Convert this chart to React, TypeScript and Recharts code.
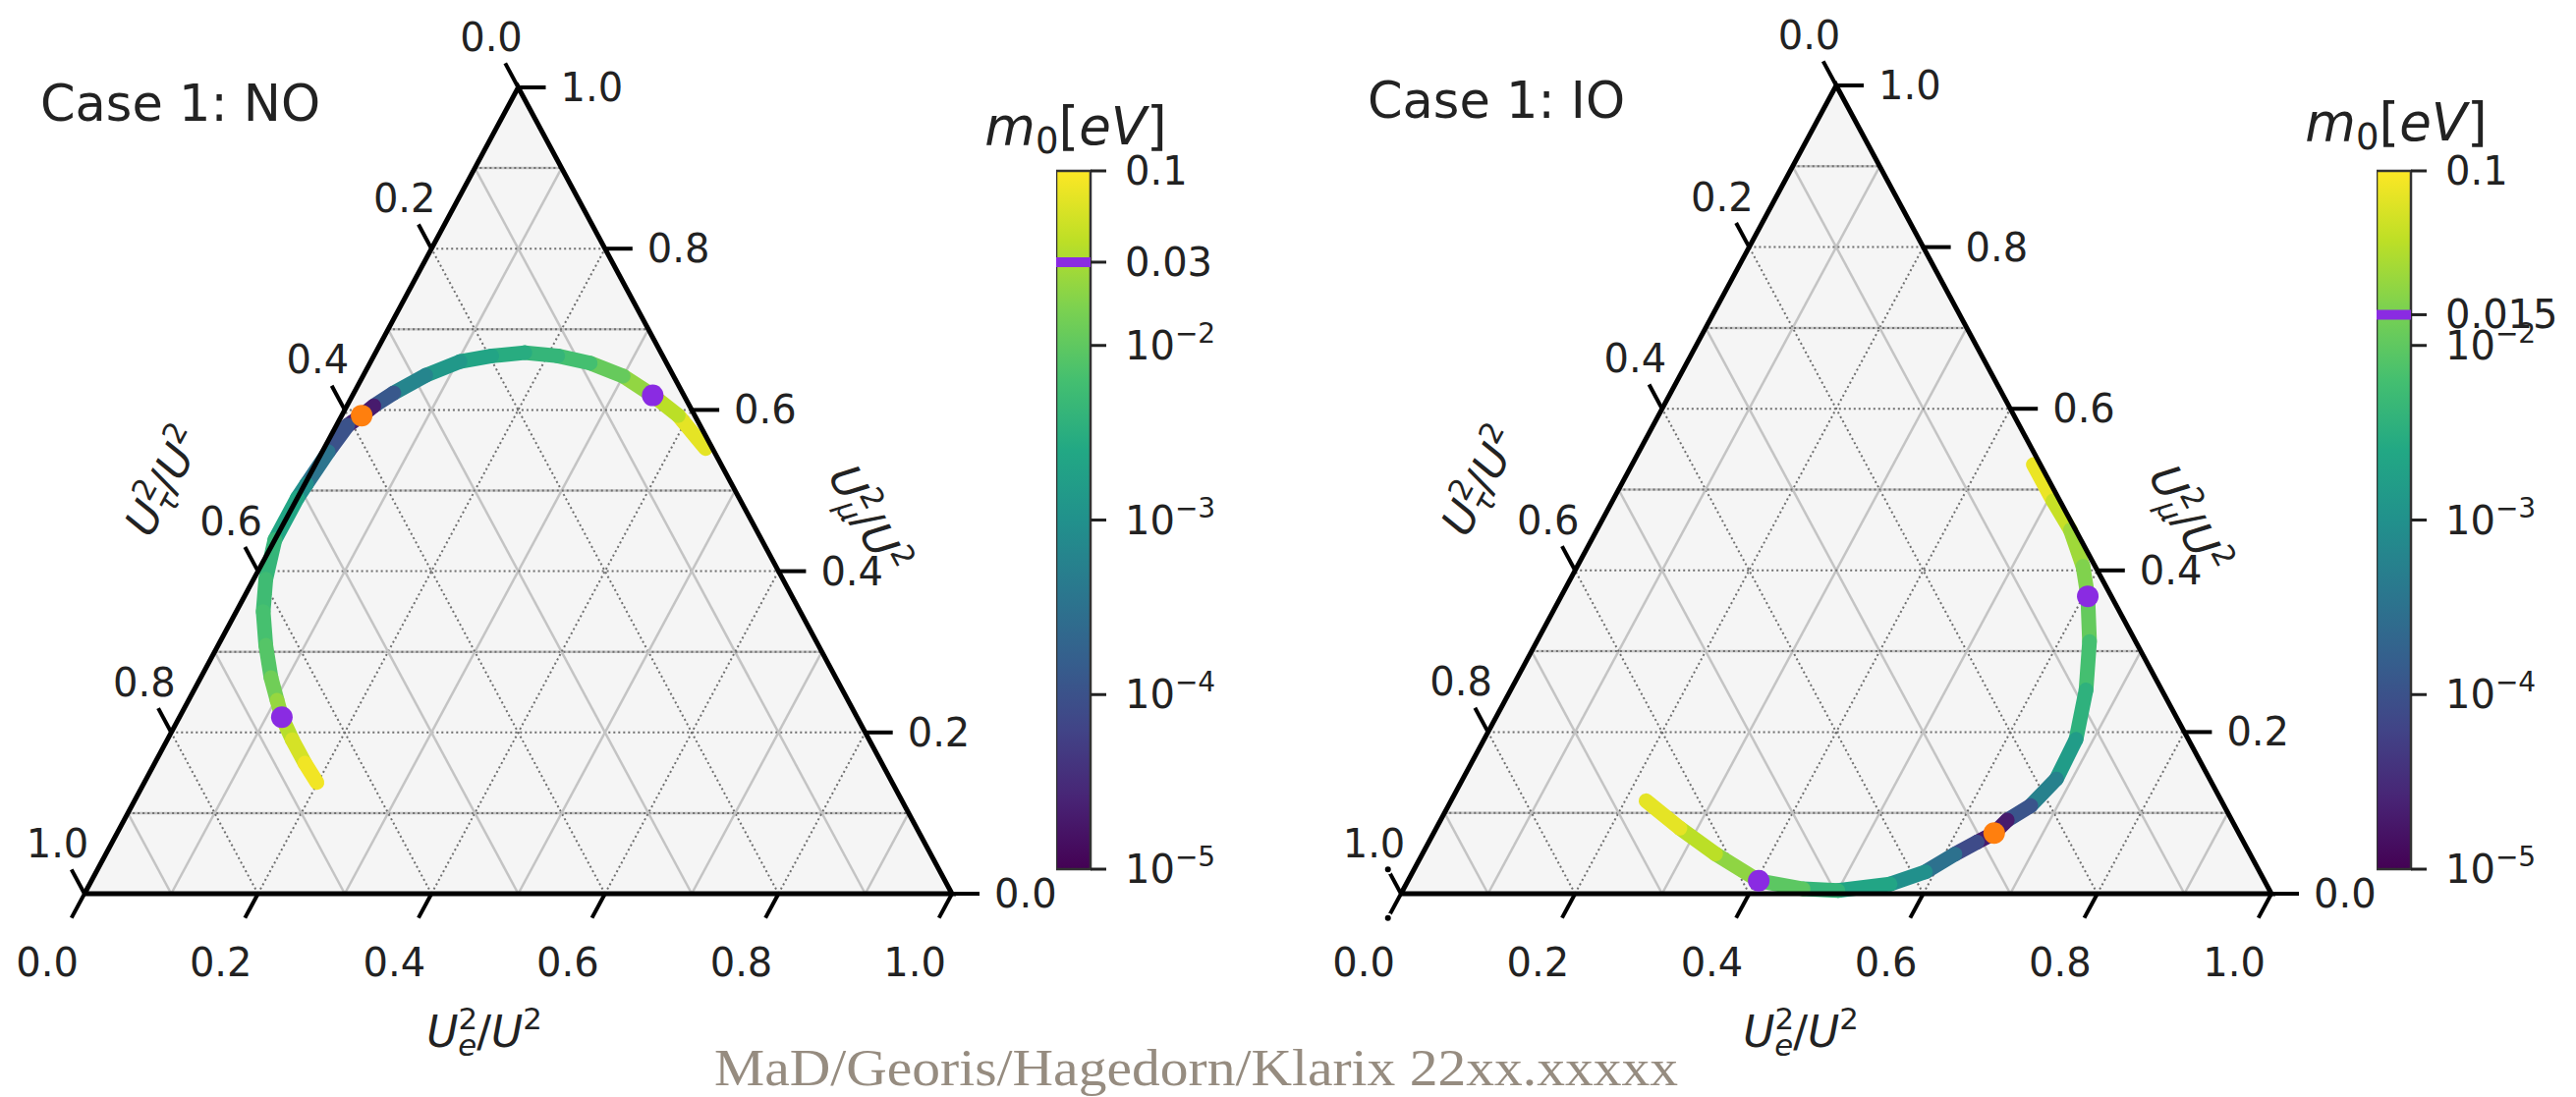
import React from 'react';
import {
  ComposedChart,
  Area,
  Line,
  Scatter,
  XAxis,
  YAxis,
  ReferenceArea,
  ReferenceLine,
} from 'recharts';

const PAGE_W = 2622;
const PAGE_H = 1117;
const FONT = '"DejaVu Sans", sans-serif';
const INK = '#222222';
const MARK_PURPLE = '#8a2be2';
const MARK_ORANGE = '#ff7f0e';

// viridis, evenly spaced over log10(m0) on the colour bar
const VIRIDIS = [
  '#440154', '#482475', '#414487', '#355f8d', '#2a788e', '#21918c',
  '#22a884', '#44bf70', '#7ad151', '#bddf26', '#fde725',
];
const M0_MIN = 1e-5;
const M0_MAX = 0.1;

const AXIS_TICKS = [0, 0.2, 0.4, 0.6, 0.8, 1.0];
const GRID_LEVELS = [0.1, 0.2, 0.3, 0.4, 0.5, 0.6, 0.7, 0.8, 0.9];

// Case 1 NO: flavour fractions along the band, m0 in eV
const NO_UE = [0.44, 0.388, 0.346, 0.3, 0.254, 0.212, 0.172, 0.136, 0.103, 0.072, 0.046, 0.031, 0.023, 0.013, 0.007, 0.002, 0.0, 0.0, 0.014, 0.031, 0.055, 0.081, 0.102, 0.118, 0.144, 0.173, 0.199];
const NO_UMU = [0.552, 0.593, 0.618, 0.642, 0.658, 0.667, 0.671, 0.667, 0.66, 0.643, 0.621, 0.605, 0.593, 0.581, 0.548, 0.508, 0.491, 0.439, 0.39, 0.35, 0.308, 0.268, 0.24, 0.219, 0.191, 0.162, 0.138];
const NO_M0 = [0.1, 0.05, 0.03, 0.016, 0.008, 0.005, 0.0035, 0.0025, 0.0018, 0.001, 0.0004, 0.00004, 0.00001, 0.00005, 0.0002, 0.0006, 0.0015, 0.0035, 0.005, 0.006, 0.007, 0.01, 0.018, 0.03, 0.045, 0.07, 0.1];
const NO_MARK = 0.03;

// Case 1 IO
const IO_UE = [0.461, 0.506, 0.544, 0.581, 0.605, 0.635, 0.661, 0.68, 0.682, 0.669, 0.651, 0.644, 0.63, 0.612, 0.589, 0.556, 0.5, 0.459, 0.403, 0.337, 0.28, 0.224];
const IO_UMU = [0.531, 0.486, 0.45, 0.405, 0.368, 0.312, 0.252, 0.191, 0.142, 0.109, 0.091, 0.075, 0.064, 0.049, 0.027, 0.012, 0.004, 0.006, 0.016, 0.049, 0.081, 0.115];
const IO_M0 = [0.1, 0.06, 0.035, 0.02, 0.015, 0.008, 0.005, 0.0025, 0.001, 0.0003, 0.00004, 0.00001, 0.00004, 0.00016, 0.0006, 0.0016, 0.003, 0.006, 0.015, 0.03, 0.05, 0.1];
const IO_MARK = 0.015;

const CBAR_NO_TICKS = [1e-5, 1e-4, 1e-3, 1e-2, 0.03, 0.1];
const CBAR_IO_TICKS = [1e-5, 1e-4, 1e-3, 1e-2, 0.015, 0.1];

type Frame = { blx: number; bly: number; brx: number; topy: number };
const NO_FRAME: Frame = { blx: 86, bly: 910, brx: 969, topy: 89 };
const IO_FRAME: Frame = { blx: 1426, bly: 910, brx: 2312, topy: 87 };

const TRIANGLE = [
  { x: 0, y: 0 },
  { x: 0.5, y: 1 },
  { x: 1, y: 0 },
];

const hexRgb = (h: string) => [1, 3, 5].map((i) => parseInt(h.slice(i, i + 2), 16));

function viridis(m0: number) {
  const lo = Math.log10(M0_MIN);
  const hi = Math.log10(M0_MAX);
  const t = Math.min(1, Math.max(0, (Math.log10(m0) - lo) / (hi - lo)));
  const f = t * (VIRIDIS.length - 1);
  const i = Math.min(VIRIDIS.length - 2, Math.floor(f));
  const u = f - i;
  const a = hexRgb(VIRIDIS[i]);
  const b = hexRgb(VIRIDIS[i + 1]);
  const c = a.map((v, k) => Math.round(v + (b[k] - v) * u));
  return `rgb(${c[0]},${c[1]},${c[2]})`;
}

const fmt = (v: number) => v.toFixed(1);

// U_sub^2 / U^2 in the mathtext style
function UFrac({ x, y, sub, angle = 0, size = 44 }: { x: number; y: number; sub: string; angle?: number; size?: number }) {
  const ss = size * 0.7;
  return (
    <text
      x={x}
      y={y}
      transform={angle ? `rotate(${angle} ${x} ${y})` : undefined}
      textAnchor="middle"
      fontFamily={FONT}
      fontSize={size}
      fill={INK}
    >
      <tspan fontStyle="italic" dy={angle ? size * 0.3 : 0}>U</tspan>
      <tspan fontSize={ss} dy={-0.42 * size}>2</tspan>
      <tspan fontSize={ss} fontStyle="italic" dx={-0.45 * size} dy={0.62 * size}>{sub}</tspan>
      <tspan dy={-0.2 * size}>/</tspan>
      <tspan fontStyle="italic">U</tspan>
      <tspan fontSize={ss} dy={-0.42 * size}>2</tspan>
    </text>
  );
}

function M0Label({ x, y }: { x: number; y: number }) {
  return (
    <text x={x} y={y} textAnchor="middle" fontFamily={FONT} fontSize={53} fill={INK}>
      <tspan fontStyle="italic">m</tspan>
      <tspan fontSize={37} dy={9}>0</tspan>
      <tspan dy={-9}>[</tspan>
      <tspan fontStyle="italic">eV</tspan>
      <tspan>]</tspan>
    </text>
  );
}

function Ternary({
  frame,
  ue,
  umu,
  m0,
  mark,
  children,
}: {
  frame: Frame;
  ue: number[];
  umu: number[];
  m0: number[];
  mark: number;
  children?: React.ReactNode;
}) {
  const w = frame.brx - frame.blx;
  const h = frame.bly - frame.topy;
  const xDomain = [-frame.blx / w, (PAGE_W - frame.blx) / w];
  const yDomain = [-(PAGE_H - frame.bly) / h, frame.bly / h];

  // data step per pixel along a direction, plus the pixel unit vector
  const dir = (dx: number, dy: number) => {
    const L = Math.hypot(dx * w, dy * h);
    return { dx: dx / L, dy: dy / L, px: (dx * w) / L, py: (-dy * h) / L };
  };
  const bDir = dir(-0.5, -1);
  const lDir = dir(-0.5, 1);
  const rDir = dir(1, 0);
  const TICK_PX = 28;

  const grid = GRID_LEVELS.flatMap((v) => {
    const odd = Math.round(v * 10) % 2 === 1;
    return [
      { key: `mu${v}`, horiz: true, odd, pts: [{ x: v / 2, y: v }, { x: 1 - v / 2, y: v }] },
      { key: `e${v}`, horiz: false, odd, pts: [{ x: v, y: 0 }, { x: (1 + v) / 2, y: 1 - v }] },
      { key: `t${v}`, horiz: false, odd, pts: [{ x: 1 - v, y: 0 }, { x: (1 - v) / 2, y: 1 - v }] },
    ];
  });

  const bottomAt = AXIS_TICKS.map((v) => ({ x: v, y: 0, text: fmt(v) }));
  const rightAt = AXIS_TICKS.map((v) => ({ x: 1 - v / 2, y: v, text: fmt(v) }));
  const leftAt = AXIS_TICKS.map((v) => ({ x: (1 - v) / 2, y: 1 - v, text: fmt(v) }));

  const tickSeg = (p: { x: number; y: number }, d: { dx: number; dy: number }) => [
    { x: p.x, y: p.y },
    { x: p.x + d.dx * TICK_PX, y: p.y + d.dy * TICK_PX },
  ];

  const pts = ue.map((e, i) => ({ x: e + umu[i] / 2, y: umu[i], m0: m0[i] }));
  const minM0 = Math.min(...m0);
  const purple = pts.filter((p) => p.m0 === mark);
  const orange = pts.filter((p) => p.m0 === minM0);

  const labelShape =
    (d: { px: number; py: number }, off: number, anchor: 'middle' | 'start') => (p: any) => (
      <text
        x={p.cx + d.px * off}
        y={p.cy + d.py * off + 14}
        textAnchor={anchor}
        fontFamily={FONT}
        fontSize={40}
        fill={INK}
      >
        {p.payload.text}
      </text>
    );

  const dot = (fill: string) => (p: any) => <circle cx={p.cx} cy={p.cy} r={11} fill={fill} />;

  return (
    <div style={{ position: 'absolute', left: 0, top: 0 }}>
      <ComposedChart
        width={PAGE_W}
        height={PAGE_H}
        data={TRIANGLE}
        margin={{ top: 0, right: 0, bottom: 0, left: 0 }}
      >
        <XAxis type="number" dataKey="x" domain={xDomain} allowDataOverflow hide />
        <YAxis type="number" dataKey="y" domain={yDomain} allowDataOverflow hide />
        <Area
          type="linear"
          dataKey="y"
          baseValue={0}
          fill="#f5f5f5"
          fillOpacity={1}
          stroke="none"
          isAnimationActive={false}
        />
        {grid.map((g) => [
          g.odd ? (
            <Line
              key={`${g.key}s`}
              data={g.pts}
              dataKey="y"
              stroke="#c4c4c4"
              strokeWidth={2.5}
              dot={false}
              isAnimationActive={false}
            />
          ) : null,
          !g.odd || g.horiz ? (
            <Line
              key={`${g.key}d`}
              data={g.pts}
              dataKey="y"
              stroke="#6f6f6f"
              strokeWidth={2}
              strokeDasharray="2 3"
              dot={false}
              isAnimationActive={false}
            />
          ) : null,
        ])}
        {pts.slice(1).map((p, i) => (
          <Line
            key={`seg${i}`}
            data={[pts[i], p]}
            dataKey="y"
            stroke={viridis(Math.sqrt(pts[i].m0 * p.m0))}
            strokeWidth={15}
            strokeLinecap="round"
            dot={false}
            isAnimationActive={false}
          />
        ))}
        <Line
          data={[TRIANGLE[0], TRIANGLE[2], TRIANGLE[1], TRIANGLE[0]]}
          dataKey="y"
          stroke="#000"
          strokeWidth={5}
          dot={false}
          isAnimationActive={false}
        />
        {bottomAt.map((p) => (
          <Line key={`bt${p.text}`} data={tickSeg(p, bDir)} dataKey="y" stroke="#000" strokeWidth={4} dot={false} isAnimationActive={false} />
        ))}
        {rightAt.map((p) => (
          <Line key={`rt${p.text}`} data={tickSeg(p, rDir)} dataKey="y" stroke="#000" strokeWidth={4} dot={false} isAnimationActive={false} />
        ))}
        {leftAt.map((p) => (
          <Line key={`lt${p.text}`} data={tickSeg(p, lDir)} dataKey="y" stroke="#000" strokeWidth={4} dot={false} isAnimationActive={false} />
        ))}
        <Scatter data={purple} shape={dot(MARK_PURPLE)} isAnimationActive={false} />
        <Scatter data={orange} shape={dot(MARK_ORANGE)} isAnimationActive={false} />
        <Scatter data={bottomAt} shape={labelShape(bDir, 80, 'middle')} isAnimationActive={false} />
        <Scatter data={rightAt} shape={labelShape(rDir, 43, 'start')} isAnimationActive={false} />
        <Scatter data={leftAt} shape={labelShape(lDir, 58, 'middle')} isAnimationActive={false} />
        {children}
      </ComposedChart>
    </div>
  );
}

function CbarTick(props: any) {
  const { x, y, payload } = props;
  const v = payload.value as number;
  const k = Math.round(Math.log10(v));
  const isPow = v <= 0.01 && Math.abs(Math.log10(v) - k) < 1e-6;
  return (
    <text x={x} y={y + 14} textAnchor="start" fontFamily={FONT} fontSize={40} fill={INK}>
      {isPow ? (
        <>
          <tspan>10</tspan>
          <tspan fontSize={28} dy={-17}>{`\u2212${-k}`}</tspan>
        </>
      ) : (
        String(v)
      )}
    </text>
  );
}

function ColorBar({ left, ticks, mark, id }: { left: number; ticks: number[]; mark: number; id: string }) {
  const barW = 35;
  const axisW = 220;
  return (
    <div style={{ position: 'absolute', left, top: 0 }}>
      <ComposedChart
        width={barW + axisW}
        height={PAGE_H}
        data={[{ x: 0, m: M0_MIN }, { x: 1, m: M0_MAX }]}
        margin={{ top: 174, right: 0, bottom: PAGE_H - 885, left: 0 }}
      >
        <defs>
          <linearGradient id={id} x1="0" y1="1" x2="0" y2="0">
            {VIRIDIS.map((c, i) => (
              <stop key={c} offset={i / (VIRIDIS.length - 1)} stopColor={c} />
            ))}
          </linearGradient>
        </defs>
        <XAxis type="number" dataKey="x" domain={[0, 1]} allowDataOverflow hide />
        <YAxis
          type="number"
          dataKey="m"
          scale="log"
          domain={[M0_MIN, M0_MAX]}
          allowDataOverflow
          orientation="right"
          width={axisW}
          ticks={ticks}
          interval={0}
          tickSize={16}
          tickMargin={19}
          axisLine={false}
          tickLine={{ stroke: '#222', strokeWidth: 3 }}
          tick={<CbarTick />}
        />
        <ReferenceArea
          x1={0}
          x2={1}
          y1={M0_MIN}
          y2={M0_MAX}
          fill={`url(#${id})`}
          fillOpacity={1}
          stroke="#333"
          strokeWidth={2.5}
        />
        <ReferenceLine y={mark} stroke={MARK_PURPLE} strokeWidth={10} />
      </ComposedChart>
    </div>
  );
}

export default function App() {
  const ang = (f: Frame) => (Math.atan2(f.bly - f.topy, (f.brx - f.blx) / 2) * 180) / Math.PI;
  return (
    <div
      style={{
        position: 'absolute',
        left: 0,
        top: 0,
        width: PAGE_W,
        height: PAGE_H,
        background: '#fff',
        overflow: 'hidden',
      }}
    >
      <Ternary frame={NO_FRAME} ue={NO_UE} umu={NO_UMU} m0={NO_M0} mark={NO_MARK}>
        <text x={41} y={123} fontFamily={FONT} fontSize={51} fill={INK}>Case 1: NO</text>
        <UFrac x={493} y={1066} sub="e" />
        <UFrac x={169} y={491} sub={'\u03c4'} angle={-ang(NO_FRAME)} />
        <UFrac x={882} y={530} sub={'\u03bc'} angle={ang(NO_FRAME)} />
        <M0Label x={1095} y={147} />
        <text
          x={727}
          y={1105}
          textLength={981}
          lengthAdjust="spacingAndGlyphs"
          fontFamily='"Liberation Serif", serif'
          fontSize={52}
          fill="#968c80"
        >
          MaD/Georis/Hagedorn/Klarix 22xx.xxxxx
        </text>
      </Ternary>
      <Ternary frame={IO_FRAME} ue={IO_UE} umu={IO_UMU} m0={IO_M0} mark={IO_MARK}>
        <text x={1392} y={120} fontFamily={FONT} fontSize={51} fill={INK}>Case 1: IO</text>
        <UFrac x={1833} y={1066} sub="e" />
        <UFrac x={1509} y={491} sub={'\u03c4'} angle={-ang(IO_FRAME)} />
        <UFrac x={2226} y={530} sub={'\u03bc'} angle={ang(IO_FRAME)} />
        <M0Label x={2439} y={143} />
      </Ternary>
      <ColorBar left={1075} ticks={CBAR_NO_TICKS} mark={NO_MARK} id="cbarNO" />
      <ColorBar left={2419} ticks={CBAR_IO_TICKS} mark={IO_MARK} id="cbarIO" />
    </div>
  );
}
